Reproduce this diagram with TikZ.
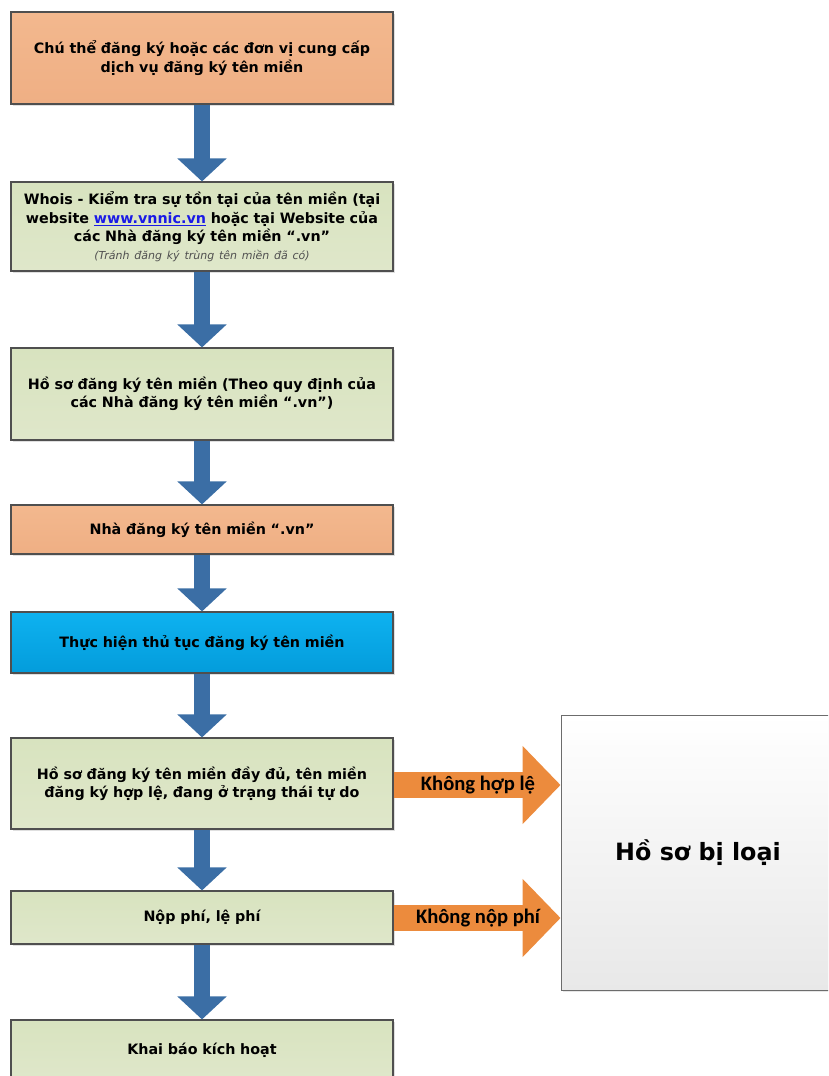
\documentclass[tikz,border=0pt]{standalone}
\usepackage{fontspec}
\setmainfont{DejaVu Sans}
\newfontfamily\carl{Carlito}
\usetikzlibrary{arrows.meta,shadows,calc}
\definecolor{ortop}{HTML}{F3B88E}
\definecolor{orbot}{HTML}{EFAF84}
\definecolor{grtop}{HTML}{D8E3BF}
\definecolor{grbot}{HTML}{DFE7CA}
\definecolor{bltop}{HTML}{0EB2F0}
\definecolor{blbot}{HTML}{039CDB}
\definecolor{bordergray}{HTML}{4F4F4F}
\definecolor{arrblue}{HTML}{3B6EA5}
\definecolor{arrorange}{HTML}{EC8B3D}
\definecolor{linkblue}{HTML}{1A1AE6}
\definecolor{notegray}{HTML}{505050}
\begin{document}
\begin{tikzpicture}[x=1pt,y=-1pt,
  box/.style={draw=bordergray, line width=1.1pt, minimum width=382pt, inner sep=0pt,
    align=center, text width=380pt,
    font=\bfseries\fontsize{14.3}{18.5}\selectfont,
    drop shadow={shadow xshift=2pt, shadow yshift=-2pt, opacity=0.25}},
  obox/.style={box, top color=ortop, bottom color=orbot},
  gbox/.style={box, top color=grtop, bottom color=grbot},
  bbox/.style={box, top color=bltop, bottom color=blbot},
  flow/.style={line width=16pt, draw=arrblue, -{Triangle[width=48pt,length=23pt]}},
  side/.style={line width=26pt, draw=arrorange, -{Triangle[width=76pt,length=38pt]}},
  lbl/.style={font=\carl\bfseries\fontsize{20.6}{22}\selectfont, inner sep=0pt}
]
\useasboundingbox (0,0) rectangle (828,1076);
\begin{scope}
\clip (0,0) rectangle (828,1076);

\node[obox, minimum height=92pt] (b1) at (202,58)
  {Chú thể đăng ký hoặc các đơn vị cung cấp\\dịch vụ đăng ký tên miền};
\node[gbox, minimum height=89pt] (b2) at (202,226.5)
  {Whois - Kiểm tra sự tồn tại của tên miền (tại\\website {\color{linkblue}\underline{www.vnnic.vn}} hoặc tại Website của\\các Nhà đăng ký tên miền ``.vn''\\[-1pt]
   {\mdseries\itshape\color{notegray}\fontsize{11}{13}\selectfont (Tránh đăng ký trùng tên miền đã có)}};
\node[gbox, minimum height=92pt] (b3) at (202,394)
  {Hồ sơ đăng ký tên miền (Theo quy định của\\các Nhà đăng ký tên miền ``.vn'')};
\node[obox, minimum height=49pt] (b4) at (202,529.5)
  {Nhà đăng ký tên miền ``.vn''};
\node[bbox, minimum height=61pt] (b5) at (202,642.5)
  {Thực hiện thủ tục đăng ký tên miền};
\node[gbox, minimum height=91pt, font=\bfseries\fontsize{14.3}{18}\selectfont] (b6) at (202,783.5)
  {Hồ sơ đăng ký tên miền đầy đủ, tên miền\\đăng ký hợp lệ, đang ở trạng thái tự do};
\node[gbox, minimum height=53pt] (b7) at (202,917.5)
  {Nộp phí, lệ phí};
\node[gbox, minimum height=60pt] (b8) at (202,1050)
  {Khai báo kích hoạt};

\node[draw=gray!85!black, line width=0.9pt, top color=white, bottom color=black!9,
      minimum width=274pt, minimum height=275pt, inner sep=0pt,
      drop shadow={shadow xshift=2pt, shadow yshift=-2pt, opacity=0.2},
      font=\bfseries\fontsize{23.8}{26}\selectfont] (rej) at (698,852.5) {Hồ sơ bị loại};

\draw[flow] (b1.south) -- (b2.north);
\draw[flow] (b2.south) -- (b3.north);
\draw[flow] (b3.south) -- (b4.north);
\draw[flow] (b4.south) -- (b5.north);
\draw[flow] (b5.south) -- (b6.north);
\draw[flow] (b6.south) -- (b7.north);
\draw[flow] (b7.south) -- (b8.north);

\coordinate (s1) at ($(b6.east)+(0,1.5)$);
\coordinate (s2) at ($(b7.east)+(0,0.5)$);
\draw[side] (s1) -- (s1 -| rej.west);
\draw[side] (s2) -- (s2 -| rej.west);
\node[lbl] (l1) at (478,785) {Không hợp lệ};
\node[lbl] (l2) at (478,918) {Không nộp phí};
\end{scope}
\end{tikzpicture}
\end{document}
